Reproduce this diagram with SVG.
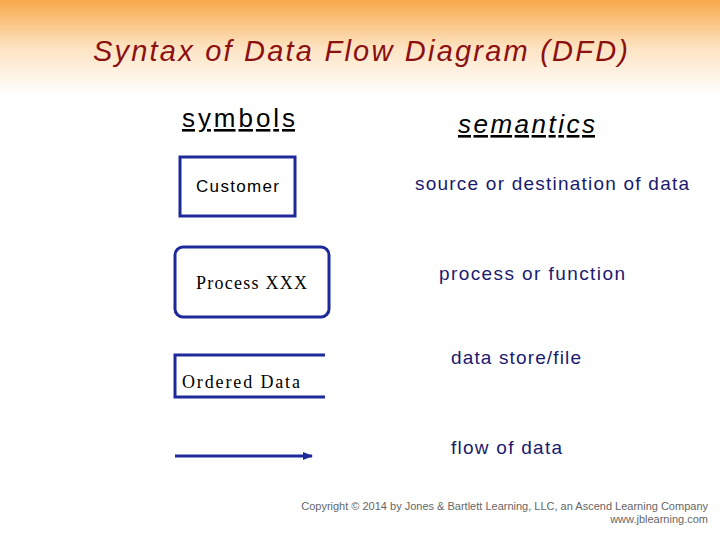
<svg xmlns="http://www.w3.org/2000/svg" width="720" height="540" viewBox="0 0 720 540">
<defs>
<linearGradient id="hdr" x1="0" y1="0" x2="0" y2="1">
<stop offset="0" stop-color="#f7a94a"/>
<stop offset="0.5" stop-color="#fde3c2"/>
<stop offset="1" stop-color="#ffffff"/>
</linearGradient>
<marker id="arr" markerWidth="10" markerHeight="8" refX="9" refY="4" orient="auto" markerUnits="userSpaceOnUse">
<path d="M0,0 L10,4 L0,8 z" fill="#1f2a9a"/>
</marker>
<style>
.sym{fill:none;stroke:#1f2a9a;stroke-width:3}
.sem{font-family:"Liberation Sans",Arial,sans-serif;font-size:19px;fill:#1a1a6e}
.hd{font-family:"Liberation Sans",Arial,sans-serif;font-size:26px;fill:#000;text-decoration:underline}
</style>
</defs>
<rect width="720" height="540" fill="#fff"/>
<rect width="720" height="95" fill="url(#hdr)"/>
<text x="93" y="61" font-family="Liberation Sans,Arial,sans-serif" font-size="29" font-style="italic" fill="#8b1010" textLength="535">Syntax of Data Flow Diagram (DFD)</text>
<text x="182" y="127" class="hd" textLength="113">symbols</text>
<text x="458" y="133" class="hd" font-style="italic" textLength="137">semantics</text>
<g id="customer"><rect x="180" y="157" width="115" height="59" class="sym"/>
<text x="196" y="192" font-family="Liberation Sans,Arial,sans-serif" font-size="17" fill="#000" textLength="83">Customer</text></g>
<g id="process"><rect x="175" y="247" width="154" height="70" rx="8" class="sym"/>
<text x="196" y="289" font-family="Liberation Serif,Times New Roman,serif" font-size="18" fill="#000" textLength="111">Process XXX</text></g>
<g id="store"><path d="M325,355 H175 V397 H325" class="sym"/>
<text x="182" y="388" font-family="Liberation Serif,Times New Roman,serif" font-size="18" fill="#000" textLength="118">Ordered Data</text></g>
<g id="connectors"><line x1="175" y1="456" x2="312" y2="456" stroke="#1f2a9a" stroke-width="3" marker-end="url(#arr)"/></g>
<text x="415" y="190" class="sem" textLength="274">source or destination of data</text>
<text x="439" y="280" class="sem" textLength="186">process or function</text>
<text x="451" y="364" class="sem" textLength="130">data store/file</text>
<text x="451" y="454" class="sem" textLength="111">flow of data</text>
<text x="708" y="510" text-anchor="end" font-family="Liberation Sans,Arial,sans-serif" font-size="11" fill="#666">Copyright © 2014 by Jones &amp; Bartlett Learning, LLC, an Ascend Learning Company</text>
<text x="708" y="523" text-anchor="end" font-family="Liberation Sans,Arial,sans-serif" font-size="11" fill="#666">www.jblearning.com</text>
</svg>
